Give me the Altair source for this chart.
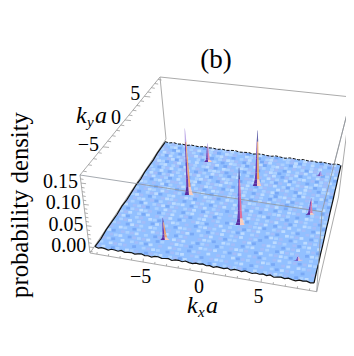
import altair as alt
import pandas as pd

# ---------- values ----------
spike_kx = [-3.97, -3.85, 1.96, 1.85, 7.69, 7.64, 7.72, -3.95]
spike_ky = [0.26, 6.58, 3.42, -3.23, -0.13, 6.78, -6.98, -7.0]
spike_z = [0.163, 0.048, 0.137, 0.136, 0.041, 0.012, 0.012, 0.052]
spike_top = ["#A98FE0", "#A98FE0", "#34348F", "#3A3A96", "#9A7AD0", "#8A70D8", "#B0A0F0", "#6A50B0"]
spike_right = ["#F2A478", "#E08FB8", "#F2A660", "#E0709A", "#E080A8", "#B090E0", "#F0C0D0", "#F0A070"]
profile_rel = [0, 0.05, 0.12, 0.25, 0.5, 0.8, 1]
profile_hw = [0.42, 0.31, 0.22, 0.17, 0.12, 0.07, 0.015]

kx_major = [-5, 0, 5]
ky_major = [-5, 0, 5]
z_major = [0.0, 0.05, 0.10, 0.15]
kx_labels = ["\u22125", "0", "5"]
ky_labels = ["\u22125", "0", "5"]
z_labels = ["0.00", "0.05", "0.10", "0.15"]
kx_minor = [-9, -8, -7, -6, -4, -3, -2, -1, 1, 2, 3, 4, 6, 7, 8, 9]
ky_minor = [-9, -8, -7, -6, -4, -3, -2, -1, 1, 2, 3, 4, 6, 7, 8, 9]
z_minor = [-0.01, 0.01, 0.02, 0.03, 0.04, 0.06, 0.07, 0.08, 0.09, 0.11, 0.12, 0.13, 0.14, 0.16]

# rim height of the noisy surface along its four sides
rim_front = [.001,-.0015,.001,.000,-.002,.001,.0005,-.001,.002,-.001,.000,.001,-.0015,.0005,.002,-.001,
             .000,-.002,.001,.0015,-.001,.000,.001,-.002,.0005,.001,-.001,.002,-.0005,-.0015,.001,.000,
             .002,-.001,.0005,-.002,.001,.000,-.001,.0015,-.002,.001,.0005,-.001,.002,.000,-.0015,.001,
             -.0005,.0015,-.001,.002,-.002,.000,.001,-.001,.0015,-.0005,-.002,.001,.000,.0015,-.001,.0005]
rim_back = [.001,-.001,.0015,-.001,.0005,-.0015,.001,.000,-.001,.0015,-.0005,.0005,-.0015,.001,-.001,.0005,
            .0015,-.001,.000,.001,-.0015,.0005,.001,-.0005,-.001,.0015,.000,-.0015,.001,.0005,-.001,.0015,
            -.0005,.0005,-.001,.001,.000,-.0015,.001,-.0005]
rim_left = [.001,-.001,.001,0,-.001,.001,-.001,0,.001,-.001,.001,0,-.001,.001,0,-.001]
rim_right = [0,.001,-.001,.001,-.001,0,.001,-.001,.001,0,-.001,.001,-.001,.001,0,-.001]

# mottled shading of the surface, estimated by eye (0 dark ... 4 pale, 2 = plain surface colour)
shade = [
"23132413220341231423102342130243122413203142",
"12340213142231024312243102341223140324213012",
"31204231320142341202314230142132043123142231",
"24132032141320231431203124023413212304132142",
"13042314223041320243130241323120423142310324",
"32214031324213142012343120214302314023241320",
"14302142013234102431220314231420132342103142",
"21342310423120343102142303124132403120243123",
"32031423142013241320342114032301242314302412",
"13242013243142302143120234213142303124120341",
"24103142310234132014323142031224132043213120",
"31421302421340231342102431323140212304132403",
"12034231132042143120342132014230341322140213",
"43212403214323102431231042313203124013243120",
"21320134302141342032143123024142310234120342",
"32143241213023124310243201431231420312431201",
"10231402342143021342312403213142032431203142",
"34120321431202413203142313042021341320243213",
"21342103214342031423120242131340213024132104",
"13204231403123142031432130241323142103243120",
"42131023241320342141032213402314203142312043",
"20314312031423102342132043121340231423021314",
"31423042131420321430214232103142310243142032",
"14023124302143212034132413042312043120324131",
"23142312041320431242031423142130224132103424",
"31204132432012314023142103321402143203142310",
"12432031241342031221430243120342132041312043",
"40213142320132414230312032143120423143021232",
"21342013142032143102431423014231032142310143",
"13024231304212413203124213240132143021424312",
"32413120231432013421302143123420312304132021",
"14203243120134231042132042313102423143120342",
]
shade_colors = {"0": "#74A5F5", "1": "#A6BCF8", "3": "#B0D4FF", "4": "#C6E0FF"}

# ---------- projection of the 3D box onto the page ----------
L_S, L_B = 9.42, 9.6
Z_B, Z_T = -0.014, 0.169

def homography(p):
    (x0, y0), (x1, y1), (x2, y2), (x3, y3) = p
    sx, sy = x0 - x1 + x2 - x3, y0 - y1 + y2 - y3
    dx1, dx2, dy1, dy2 = x1 - x2, x3 - x2, y1 - y2, y3 - y2
    det = dx1 * dy2 - dx2 * dy1
    g = (sx * dy2 - dx2 * sy) / det
    h = (dx1 * sy - sx * dy1) / det
    a, b = x1 - x0 + g * x1, x3 - x0 + h * x3
    d, e = y1 - y0 + g * y1, y3 - y0 + h * y3
    def f(u, v):
        w = g * u + h * v + 1
        return (a * u + b * v + x0) / w, (d * u + e * v + y0) / w
    return f

H_floor = homography([(90, 253), (316.7, 291.7), (341, 172), (166, 145)])
H_edge = homography([(90, 253), (316.7, 291.7), (338.5, 197), (166, 139)])
H_top = homography([(80, 175), (322, 211.7), (351.3, 97), (160, 77)])
H_surf = homography([(95, 247), (314, 283), (341, 165), (165, 142)])

def box(kx, ky, level):
    u, v = (kx + L_B) / (2 * L_B), (ky + L_B) / (2 * L_B)
    return {"top": H_top, "floor": H_floor, "edge": H_edge}[level](u, v)

def surf(kx, ky, z=0.0):
    xs, ys = H_surf((kx + L_S) / (2 * L_S), (ky + L_S) / (2 * L_S))
    xt, yt = H_top((kx + L_B) / (2 * L_B), (ky + L_B) / (2 * L_B))
    t = z / Z_T
    return xs + (xt - xs) * t, ys + (yt - ys) * t

def front_left(z):
    a, b = box(-L_B, -L_B, "floor"), box(-L_B, -L_B, "top")
    t = (z - Z_B) / (Z_T - Z_B)
    return a[0] + (b[0] - a[0]) * t, a[1] + (b[1] - a[1]) * t

# ---------- page scales ----------
sx = alt.Scale(domain=[8, 346], nice=False)
sy = alt.Scale(domain=[348, 8], nice=False)
X = alt.X("x:Q", scale=sx, axis=None)
Y = alt.Y("y:Q", scale=sy, axis=None)

def segs(rows):
    out = []
    for i, (a, b) in enumerate(rows):
        out += [dict(x=a[0], y=a[1], id=i), dict(x=b[0], y=b[1], id=i)]
    return pd.DataFrame(out)

def rule_layer(rows, color="#ABABAB", width=1.0, opacity=1.0):
    return alt.Chart(segs(rows)).mark_line(color=color, strokeWidth=width, opacity=opacity, clip=False).encode(
        x=X, y=Y, detail="id:N", order=alt.Order("y:Q"))

F = L_B
behind = rule_layer([
    (box(-F, F, "top"), box(F, F, "top")),
    (box(-F, -F, "top"), box(-F, F, "top")),
    (box(F, -F, "top"), box(F, F, "top")),
    (box(-F, F, "top"), box(-F, F, "edge")),
    (box(F, F, "top"), box(F, F, "edge")),
    (box(-F, -F, "top"), box(-F, -F, "floor")),
    (box(-F, -F, "floor"), box(F, -F, "floor")),
    (box(-F, -F, "edge"), box(-F, F, "edge")),
    (box(F, -F, "edge"), box(F, F, "edge")),
])

# surface fill, bounded by its four projected corners
c = [surf(-L_S, -L_S), surf(L_S, -L_S), surf(L_S, L_S), surf(-L_S, L_S)]
def edge_y(p, q, x):
    return p[1] + (q[1] - p[1]) * (x - p[0]) / (q[0] - p[0])
fill_rows = []
for xv in sorted(pt[0] for pt in c):
    top = edge_y(c[0], c[3], xv) if xv <= c[3][0] else edge_y(c[3], c[2], xv)
    bot = edge_y(c[0], c[1], xv) if xv <= c[1][0] else edge_y(c[1], c[2], xv)
    fill_rows.append(dict(x=xv, y=top, y2=bot))
surface = alt.Chart(pd.DataFrame(fill_rows)).mark_area(color="#92C0FF", clip=False).encode(
    x=X, y=Y, y2="y2:Q")

# texture
rows = []
ny, nx = len(shade), len(shade[0])
for j, line in enumerate(shade):
    for i, ch in enumerate(line):
        if ch in shade_colors:
            kx = -L_S + 2 * L_S * (i + 0.5) / nx
            ky = L_S - 2 * L_S * (j + 0.5) / ny
            px, py = surf(kx, ky)
            rows.append(dict(x=px, y=py, c=shade_colors[ch]))
texture = alt.Chart(pd.DataFrame(rows)).mark_point(
    shape="M-1,-.7L1,-.7L1,.7L-1,.7Z", filled=True, size=15, opacity=0.85, strokeWidth=0, clip=False
).encode(x=X, y=Y, color=alt.Color("c:N", scale=None))

# rim lines
def rim(values, start, end):
    n = len(values) - 1
    return [surf(start[0] + (end[0] - start[0]) * k / n, start[1] + (end[1] - start[1]) * k / n, z)
            for k, z in enumerate(values)]

def path_layer(pts, width, dash=None):
    df = pd.DataFrame([dict(x=p[0], y=p[1], o=k) for k, p in enumerate(pts)])
    kw = dict(strokeDash=dash) if dash else {}
    return alt.Chart(df).mark_line(color="#111111", strokeWidth=width, clip=False, **kw).encode(
        x=X, y=Y, order="o:Q")

rims = [
    path_layer(rim(rim_front, (-L_S, -L_S), (L_S, -L_S)), 1.2),
    path_layer(rim(rim_back, (-L_S, L_S), (L_S, L_S)), 1.0, [3, 1.5]),
    path_layer(rim(rim_left, (-L_S, -L_S), (-L_S, L_S)), 1.2),
    path_layer(rim(rim_right, (L_S, -L_S), (L_S, L_S)), 1.2),
]

over = rule_layer([
    (box(-F, -F, "top"), box(F, -F, "top")),
    (box(F, -F, "top"), box(F, -F, "floor")),
    (box(F, -F, "top"), box(F, F, "top")),
], color="#8F959C", width=1.0, opacity=0.8)

# spikes
area_rows = []
for s, (kx, ky, zp) in enumerate(zip(spike_kx, spike_ky, spike_z)):
    for k in range(len(profile_rel) - 1):
        band = "base" if k < 2 else ("top" if k >= 5 else "mid")
        for side in (-1, 1):
            if band == "top":
                col = spike_top[s]
            elif side < 0:
                col = "#5A2CA0" if band == "base" else "#6C3CB0"
            else:
                col = "#FBCDBD" if band == "base" else spike_right[s]
            for kk in (k, k + 1):
                z = zp * profile_rel[kk]
                cx, cy = surf(kx, ky, z)
                ex, _ = surf(kx + side * profile_hw[kk], ky, z)
                area_rows.append(dict(x=cx, x2=ex, y=cy, id=f"{s}-{k}-{side}", col=col))
spikes = alt.Chart(pd.DataFrame(area_rows)).mark_area(orient="horizontal", clip=False).encode(
    y=Y, x=X, x2="x2:Q", detail="id:N", color=alt.Color("col:N", scale=None))

# ticks
tick_rows = []
for v, ln in [(t, 5) for t in kx_major] + [(t, 3) for t in kx_minor]:
    a = box(v, -L_B, "floor")
    tick_rows.append((a, (a[0] + 0.3, a[1] - ln * 0.7)))
for v, ln in [(t, 6) for t in ky_major] + [(t, 3.5) for t in ky_minor]:
    a = box(-L_B, v, "top")
    tick_rows.append((a, (a[0] + ln, a[1] + 0.6)))
for v, ln in [(t, 5) for t in z_major] + [(t, 3) for t in z_minor]:
    a = front_left(v)
    tick_rows.append((a, (a[0] + ln, a[1] + 0.6)))
ticks = rule_layer(tick_rows, color="#9A9A9A", width=0.8)

SERIF = "Liberation Serif"
def texts(rows, size, align="center", style="normal", baseline="middle", angle=0):
    return alt.Chart(pd.DataFrame(rows)).mark_text(
        font=SERIF, fontSize=size, align=align, baseline=baseline, fontStyle=style, color="#000000",
        angle=angle, clip=False
    ).encode(x=X, y=Y, text="t:N")

lab = []
for v, t in zip(kx_major, kx_labels):
    a = box(v, -L_B, "floor")
    lab.append(dict(x=a[0] - 2.5, y=a[1] + 15, t=t))
kx_text = texts(lab, 20)
lab = []
for v, t in zip(ky_major, ky_labels):
    a = box(-L_B, v, "top")
    lab.append(dict(x=a[0] - 4, y=a[1] - 2, t=t))
ky_text = texts(lab, 20, align="right")
lab = []
for v, t in zip(z_major, z_labels):
    a = front_left(v)
    lab.append(dict(x=a[0] - 3, y=a[1] - 1, t=t))
z_text = texts(lab, 20, align="right")

title = texts([dict(x=216, y=68, t="(b)")], 27, baseline="alphabetic")
ylabel = texts([dict(x=21, y=205, t="probability density")], 24.7, angle=270)
k_ax = [
    texts([dict(x=187, y=313, t="k")], 24, align="left", style="italic", baseline="alphabetic"),
    texts([dict(x=198, y=317, t="x")], 15, align="left", style="italic", baseline="alphabetic"),
    texts([dict(x=206, y=313, t="a")], 24, align="left", style="italic", baseline="alphabetic"),
    texts([dict(x=76, y=123, t="k")], 24, align="left", style="italic", baseline="alphabetic"),
    texts([dict(x=87, y=127, t="y")], 15, align="left", style="italic", baseline="alphabetic"),
    texts([dict(x=95, y=123, t="a")], 24, align="left", style="italic", baseline="alphabetic"),
]

chart = alt.layer(
    behind, surface, texture, *rims, over, spikes, ticks,
    kx_text, ky_text, z_text, title, ylabel, *k_ax
).properties(
    width=338, height=340, padding=0, autosize=alt.AutoSizeParams(type="none")
).configure_view(stroke=None)

chart.save("out.html", embed_options={"renderer": "svg", "actions": False})
